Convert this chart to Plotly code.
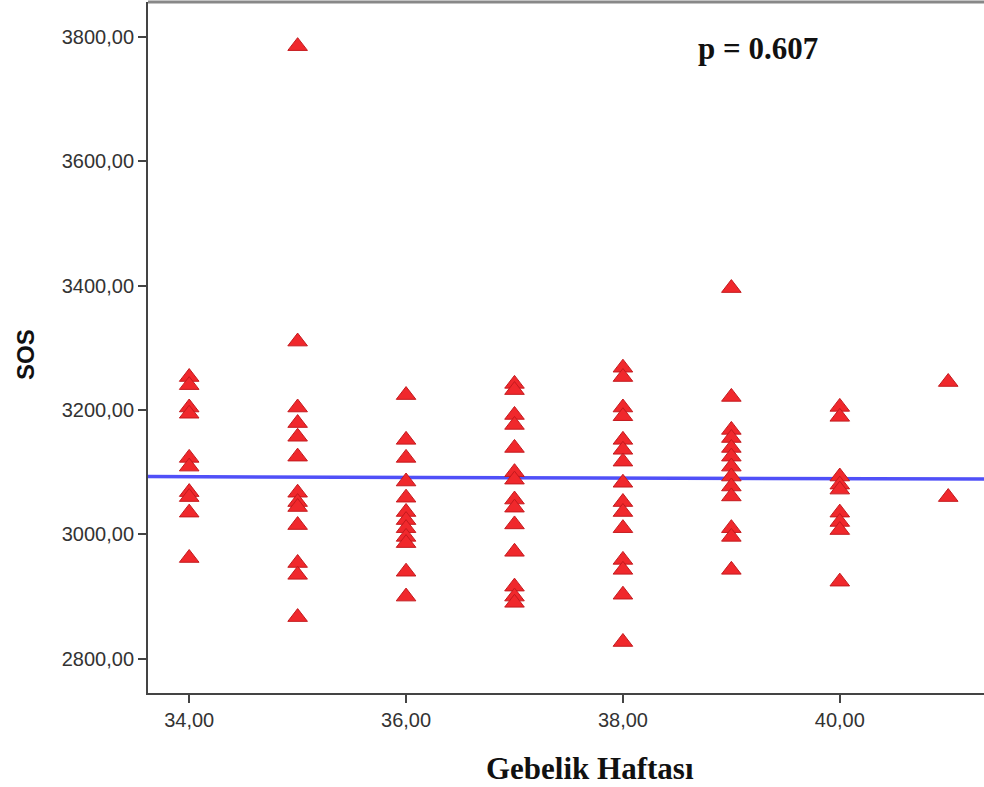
import plotly.graph_objects as go

week_34 = [3253, 3240, 3204, 3194, 3123, 3109, 3068, 3060, 3035, 2962]
week_35 = [3785, 3310, 3204, 3179, 3157, 3125, 3067, 3052, 3044, 3015, 2954, 2935, 2867]
week_36 = [3224, 3152, 3123, 3085, 3059, 3036, 3023, 3010, 2996, 2986, 2940, 2900]
week_37 = [3242, 3232, 3192, 3176, 3139, 3100, 3088, 3056, 3043, 3016, 2972, 2916, 2900, 2890]
week_38 = [3268, 3253, 3204, 3190, 3152, 3136, 3117, 3083, 3052, 3036, 3010, 2959, 2943, 2903, 2827]
week_39 = [3396, 3221, 3168, 3155, 3139, 3125, 3109, 3093, 3077, 3061, 3010, 2996, 2943]
week_40 = [3205, 3189, 3093, 3080, 3072, 3035, 3020, 3007, 2924]
week_41 = [3245, 3060]

groups = {34: week_34, 35: week_35, 36: week_36, 37: week_37,
          38: week_38, 39: week_39, 40: week_40, 41: week_41}

x_vals = [w for w, vals in groups.items() for _ in vals]
y_vals = [v for vals in groups.values() for v in vals]

# fit line
fit_weeks = [33.62, 41.33]
fit_sos = [3093, 3089]

x_ticks = [34, 36, 38, 40]
x_ticktext = ["34,00", "36,00", "38,00", "40,00"]
y_ticks = [2800, 3000, 3200, 3400, 3600, 3800]
y_ticktext = ["2800,00", "3000,00", "3200,00", "3400,00", "3600,00", "3800,00"]

x_range = [33.62, 41.33]
y_range = [2745, 3856]

fig = go.Figure()
fig.add_trace(go.Scatter(
    x=fit_weeks, y=fit_sos, mode="lines",
    line=dict(color="#5050f8", width=3.5), hoverinfo="skip", showlegend=False))
fig.add_trace(go.Scatter(
    x=x_vals, y=y_vals, mode="markers",
    marker=dict(symbol="triangle-up", size=17, color="#f0282c",
                line=dict(color="#c41a1e", width=1)),
    showlegend=False))

fig.update_layout(
    width=984, height=787,
    margin=dict(l=148, r=0, t=2, b=94),
    paper_bgcolor="white", plot_bgcolor="white",
    font=dict(family="Arial, Liberation Sans, sans-serif", size=20, color="#333"),
    xaxis=dict(range=x_range, tickvals=x_ticks, ticktext=x_ticktext,
               showgrid=False, zeroline=False, showline=True, linecolor="#444",
               linewidth=2, ticks="outside", ticklen=8, tickwidth=2, tickcolor="#444",
               tickfont=dict(size=20, color="#333")),
    yaxis=dict(range=y_range, tickvals=y_ticks, ticktext=y_ticktext,
               showgrid=False, zeroline=False, showline=True, linecolor="#444",
               linewidth=2, ticks="outside", ticklen=8, tickwidth=2, tickcolor="#444",
               tickfont=dict(size=20, color="#333")),
)

fig.add_shape(type="line", xref="paper", yref="paper", x0=0, x1=1, y0=1, y1=1,
              line=dict(color="#888", width=3))

fig.add_annotation(text="<b>SOS</b>", xref="paper", yref="paper",
                   x=(25 - 148) / (984 - 148), y=(693 - 355) / 691,
                   textangle=-90, showarrow=False,
                   font=dict(family="Arial, Liberation Sans, sans-serif", size=24, color="#111"),
                   xanchor="center", yanchor="middle")
fig.add_annotation(text="<b>Gebelik Haftası</b>", xref="paper", yref="paper",
                   x=(590 - 148) / (984 - 148), y=(693 - 768) / 691, showarrow=False,
                   font=dict(family="Liberation Serif, Times New Roman, serif", size=31, color="#111"),
                   xanchor="center", yanchor="middle")
fig.add_annotation(text="<b>p = 0.607</b>", xref="paper", yref="paper",
                   x=(758 - 148) / (984 - 148), y=(693 - 48) / 691, showarrow=False,
                   font=dict(family="Liberation Serif, Times New Roman, serif", size=31, color="#111"),
                   xanchor="center", yanchor="middle")

fig.write_html("out.html")
